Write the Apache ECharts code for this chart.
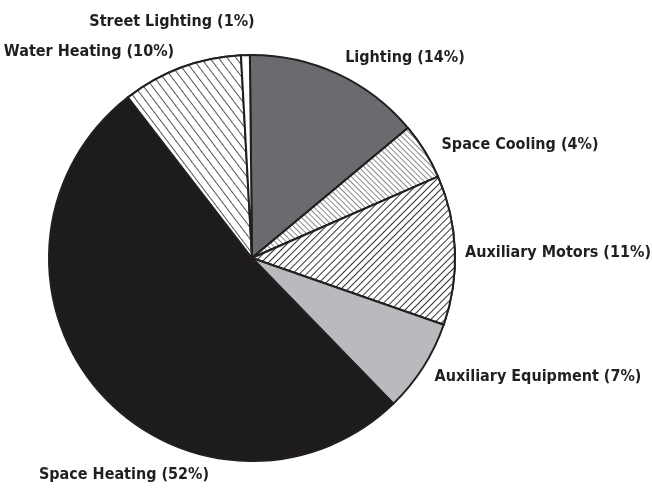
<!DOCTYPE html>
<html>
<head>
<meta charset="utf-8">
<script src="https://cdn.jsdelivr.net/npm/echarts@6/dist/echarts.min.js"></script>
<style>
  html, body { margin: 0; padding: 0; background: #fff; }
  #chart { width: 652px; height: 491px; }
</style>
</head>
<body>
<div id="chart"></div>
<script>
  // categories clockwise from 12 o'clock
  var categories = ['Lighting', 'Space Cooling', 'Auxiliary Motors', 'Auxiliary Equipment', 'Space Heating', 'Water Heating', 'Street Lighting']
  // slice sizes (percent of total)
  var shares = [14.1, 4.5, 11.9, 7.4, 51.8, 9.6, 0.7]
  // percentages as printed in the labels
  var shownPct = [14, 4, 11, 7, 52, 10, 1]

  // label anchor points (layout only)
  var labelPos = [[405, 58], [520, 145], [558, 253], [538, 377], [124, 475], [89, 52], [172, 22]]

  var ink = '#231f20'
  function hatch (color, rot, gap, w) {
    return {
      symbol: 'rect',
      symbolSize: 1,
      color: color,
      backgroundColor: '#ffffff',
      dashArrayX: [1, 0],
      dashArrayY: [w, gap],
      rotation: rot
    }
  }
  var styles = [
    { color: '#6a6b6e' },
    { color: '#ffffff', decal: hatch('#8a8a8a', Math.PI / 4, 3, 1) },
    { color: '#ffffff', decal: hatch('#333333', -Math.PI / 4, 4, 1) },
    { color: '#b9babd' },
    { color: '#1e1b1c' },
    { color: '#ffffff', decal: hatch('#555555', Math.PI / 3.4, 5.5, 1) },
    { color: '#ffffff' }
  ]

  var chart = echarts.init(document.getElementById('chart'))
  chart.setOption({
    animation: false,
    series: [{
      type: 'pie',
      center: [252, 258],
      radius: 203,
      startAngle: 90.6,
      clockwise: true,
      itemStyle: {
        borderColor: ink,
        borderWidth: 2
      },
      label: {
        show: true,
        position: 'outside',
        overflow: 'none',
        fontFamily: "'DejaVu Sans Condensed', sans-serif",
        fontWeight: 'bold',
        fontSize: 16,
        color: ink,
        formatter: function (p) {
          return p.name + ' (' + shownPct[p.dataIndex] + '%)'
        }
      },
      labelLine: { show: false },
      labelLayout: function (params) {
        var p = labelPos[params.dataIndex]
        return { x: p[0], y: p[1], align: 'center', verticalAlign: 'middle' }
      },
      emphasis: { disabled: true },
      data: categories.map(function (c, i) {
        return { name: c, value: shares[i], itemStyle: styles[i] }
      })
    }]
  })
</script>
</body>
</html>
